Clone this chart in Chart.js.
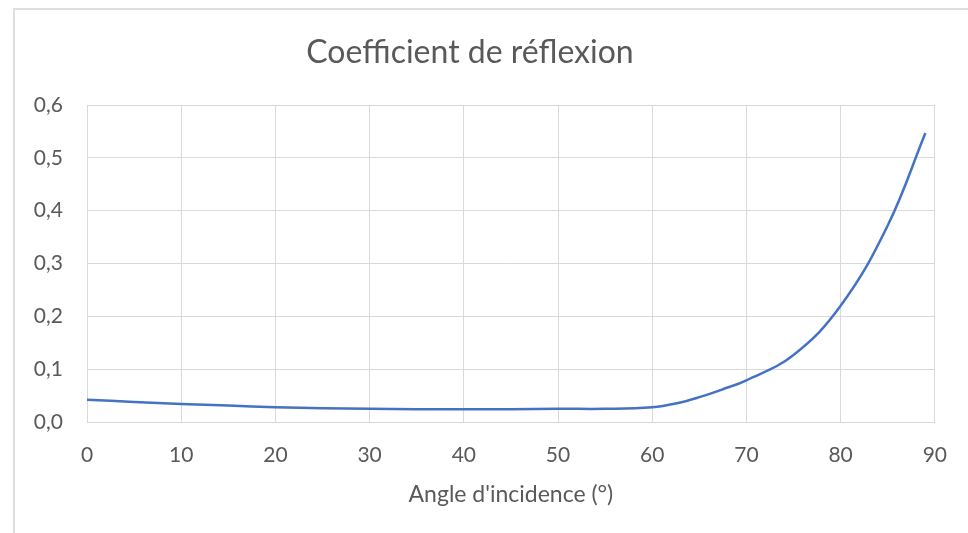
<!DOCTYPE html>
<html>
<head>
<meta charset="utf-8">
<script src="https://cdn.jsdelivr.net/npm/chart.js@4"></script>
<style>
  html, body { margin: 0; padding: 0; background: #fff; overflow: hidden; }
  .frame { position: absolute; left: 13px; top: 8px; width: 1000px; height: 600px;
           border-left: 2px solid #dedede; border-top: 2px solid #dedede; }
  #chartReflexion { position: absolute; left: 0; top: 0; }
</style>
</head>
<body>
<div class="frame"></div>
<canvas id="chartReflexion" width="968" height="533"></canvas>
<script>
// Données
const angles = [0, 5, 10, 15, 20, 25, 30, 35, 40, 45, 50, 55, 60, 62.5, 65, 67.5, 70, 75, 80, 85, 89];
const coefficients = [0.042, 0.038, 0.034, 0.031, 0.028, 0.026, 0.025, 0.024, 0.024, 0.024,
  0.025, 0.025, 0.028, 0.035, 0.047, 0.062, 0.079, 0.127, 0.22, 0.372, 0.547];
const xTicks = [0, 10, 20, 30, 40, 50, 60, 70, 80, 90];
const yTicks = [0, 0.1, 0.2, 0.3, 0.4, 0.5, 0.6];

const fontFamily = "Lato, 'Open Sans', sans-serif";
const textColor = "#595959";
const gridColor = "#d9d9d9";

const points = angles.map((a, i) => ({ x: a, y: coefficients[i] }));

if (document.getElementById("chartReflexion")) {
  const ctx = document.getElementById("chartReflexion");
  new Chart(ctx, {
    type: "line",
    data: {
      datasets: [{
        label: "Coefficient de réflexion",
        data: points,
        borderColor: "#4472C4",
        borderWidth: 2.5,
        pointRadius: 0,
        fill: false,
        tension: 0.4
      }]
    },
    options: {
      responsive: false,
      animation: false,
      layout: { padding: { left: 0, right: 28, top: 0, bottom: 0 } },
      plugins: {
        legend: { display: false },
        tooltip: { enabled: false },
        title: {
          display: true,
          text: "Coefficient de réflexion",
          color: textColor,
          font: { family: fontFamily, size: 32, weight: "normal", lineHeight: 1.2 },
          padding: { top: 33.8, bottom: 32.8 }
        }
      },
      scales: {
        x: {
          type: "linear",
          min: 0,
          max: 90,
          afterFit: s => { s.height = 111; },
          afterBuildTicks: s => { s.ticks = xTicks.map(v => ({ value: v })); },
          grid: { color: gridColor, lineWidth: 1, drawTicks: false },
          border: { color: gridColor },
          ticks: {
            color: textColor,
            font: { family: fontFamily, size: 21 },
            padding: 21,
            maxRotation: 0
          },
          title: {
            display: true,
            text: "Angle d'incidence (°)",
            color: textColor,
            font: { family: fontFamily, size: 23, lineHeight: 1.2 },
            padding: { top: 0, bottom: 25 }
          }
        },
        y: {
          min: 0,
          max: 0.6,
          afterFit: s => { s.width = 87; },
          afterBuildTicks: s => { s.ticks = yTicks.map(v => ({ value: v })); },
          grid: { color: gridColor, lineWidth: 1, drawTicks: false },
          border: { color: gridColor },
          ticks: {
            color: textColor,
            font: { family: fontFamily, size: 21 },
            padding: 24,
            callback: v => v.toFixed(1).replace(".", ",")
          }
        }
      }
    }
  });
}
</script>
</body>
</html>
